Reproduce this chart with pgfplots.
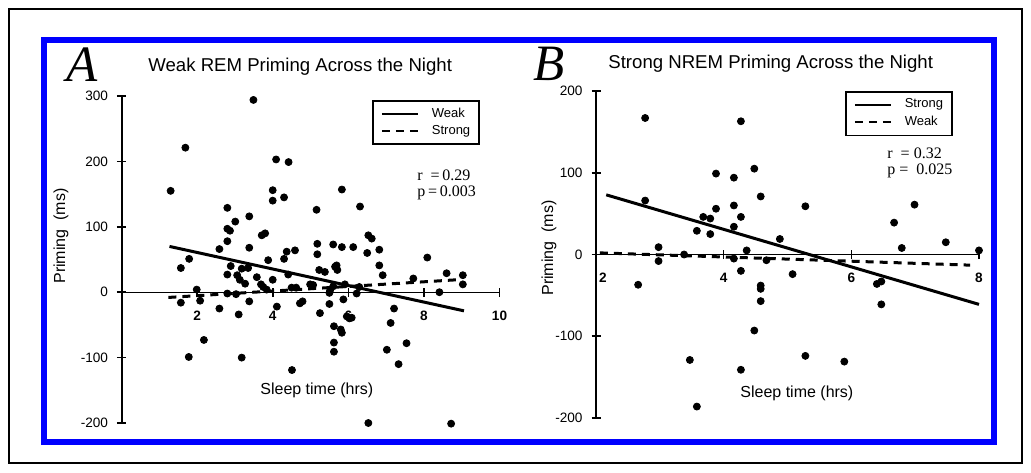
\documentclass[border=0pt]{standalone}
\usepackage{fontspec}
\setmainfont{Liberation Sans}
\newfontfamily\timesf{Liberation Serif}
\usepackage{pgfplots}
\pgfplotsset{compat=1.18}

% panel A: weak REM priming, one point per (sleep hrs, priming ms)
\pgfplotstableread{
x y
1.69 221
1.30 155
3.49 294
4.09 203
4.42 199
4.00 156
4.30 145
4.00 140
5.16 126
2.80 129
3.01 108
3.38 116
2.80 97
2.87 94
3.71 87
3.80 90
2.80 78
2.59 66
3.38 68
5.18 74
5.18 58
4.37 62
4.59 64
4.30 51
3.88 49
1.79 51
1.57 37
2.89 40
3.18 36
3.35 37
2.80 27
3.06 26
3.13 19
3.27 13
3.58 23
4.00 19
4.41 27
3.69 12
3.75 8
3.84 4
4.62 7
4.50 7
4.99 12
5.23 34
1.99 4
2.80 -2
3.03 -3
1.57 -16
2.08 -13
3.38 -14
2.59 -25
3.10 -34
4.11 -22
4.72 -17
4.79 -14
5.25 -32
2.18 -73
1.78 -99
3.18 -100
4.51 -119
5.50 -1
5.52 3
5.50 -18
5.62 -52
5.62 -77
5.62 -91
5.07 11
5.65 39
5.71 34
5.60 73
5.83 157
6.31 131
6.53 87
6.62 82
5.83 69
6.13 69
6.50 60
6.82 65
6.82 41
6.91 26
8.09 53
8.60 29
9.03 26
9.03 12
7.72 21
8.41 0
5.38 31
5.69 41
5.60 9
5.91 12
6.29 8
6.22 -2
5.87 -11
5.96 -37
6.03 -40
6.09 -39
7.21 -25
7.12 -47
5.80 -57
5.83 -62
7.02 -88
7.54 -78
7.33 -110
6.53 -200
8.72 -201
}\weakrem

% panel B: strong NREM priming
\pgfplotstableread{
x y
2.77 167
4.27 163
3.88 99
4.16 94
4.48 105
4.58 71
2.77 66
3.88 56
4.16 60
4.27 46
3.68 46
3.79 44
3.58 29
3.79 25
4.16 34
4.88 19
2.98 9
2.98 -8
3.38 0
4.16 -5
4.36 5
4.67 -7
4.27 -20
5.08 -24
2.66 -37
4.58 -38
4.58 -42
4.58 -57
4.48 -93
3.47 -129
3.58 -186
4.27 -141
5.28 59
6.99 61
6.67 39
6.79 8
7.48 15
8.00 5
6.40 -36
6.47 -33
6.47 -61
5.28 -124
5.89 -131
}\strongnrem

\pgfplotsset{
  sleepaxis/.style={
    scale only axis,
    axis x line=middle, axis y line=left,
    axis line style={-},
    x axis line style={line width=0.7pt},
    y axis line style={line width=1pt},
    tick align=center,
    major tick length=4.5pt,
    tick style={black, line width=0.8pt},
    hide obscured x ticks=false, hide obscured y ticks=false,
    clip=false,
    yticklabel style={font=\fontsize{6.8}{8}\selectfont, inner sep=0.5pt, xshift=-3.8pt},
    xticklabel style={font=\fontsize{6.8}{8}\selectfont\bfseries, yshift=-3.5pt},
    legend style={draw=black, line width=0.8pt, anchor=north west,
      font=\fontsize{6.5}{7.5}\selectfont, legend cell align=left,
      inner xsep=4pt, inner ysep=3pt, row sep=1.5pt, column sep=6pt,
      nodes={inner sep=0.5pt}},
    legend image code/.code={\draw[#1, line width=1pt] (0pt,0pt) -- (18pt,0pt);},
  },
  dots/.style={only marks, mark=*, mark size=1.75pt, black, forget plot},
  fit/.style={black, line width=1.5pt},
  fitdash/.style={black, line width=1.5pt, dash pattern=on 4pt off 3pt},
}

\begin{document}
\begin{tikzpicture}[x=0.5pt,y=-0.5pt]
\path[use as bounding box] (0,0) rectangle (1031,472);
\draw[line width=0.6pt] (9,9) rectangle (1022,463);
\draw[blue, line width=3pt] (44,40) rectangle (994,442);

\begin{axis}[sleepaxis, at={(60.75pt,-211.5pt)}, anchor=south west,
  width=189pt, height=163.5pt,
  xmin=0, xmax=10, ymin=-200, ymax=300,
  xtick={2,4,6,8,10}, xticklabels={2,4,6,8,10},
  ytick={-200,-100,0,100,200,300}, yticklabels={-200,-100,0,100,200,300},
  legend style={at={(0.663,0.988)}}]
\addplot[dots] table {\weakrem};
\addplot[fit] coordinates {(1.27,70) (9.06,-28.5)};
\addlegendentry{Weak}
\addplot[fitdash] coordinates {(1.24,-8) (8.87,19)};
\addlegendentry{Strong}
\end{axis}

\begin{axis}[sleepaxis, at={(298pt,-209pt)}, anchor=south west,
  width=191.5pt, height=163.5pt,
  xmin=2, xmax=8, ymin=-200, ymax=200,
  xtick={2,4,6,8}, xticklabels={\hspace*{7pt}2,4,6,8},
  ytick={-200,-100,0,100,200}, yticklabels={-200,-100,0,100,200},
  legend style={at={(0.650,1.0)}}]
\addplot[dots] table {\strongnrem};
\addplot[fit] coordinates {(2.16,73) (8.0,-61)};
\addlegendentry{Strong}
\addplot[fitdash] coordinates {(2.06,2) (7.86,-13)};
\addlegendentry{Weak}
\end{axis}

\node[anchor=base, inner sep=0, text depth=0pt, font=\timesf\itshape\fontsize{25.5}{27}\selectfont] at (82,81.5) {A};
\node[anchor=base, inner sep=0, text depth=0pt, font=\timesf\itshape\fontsize{25.5}{27}\selectfont] at (549,80) {B};
\node[anchor=base west, inner sep=0, font=\fontsize{9.3}{11}\selectfont] at (148,71.5) {Weak REM Priming Across the Night};
\node[anchor=base west, inner sep=0, font=\fontsize{9.3}{11}\selectfont] at (608,68) {Strong NREM Priming Across the Night};
\node[rotate=90, inner sep=0, font=\fontsize{8}{9}\selectfont] at (61,236) {Priming\ \ (ms)};
\node[rotate=90, inner sep=0, font=\fontsize{8}{9}\selectfont] at (549,248) {Priming\ \ (ms)};
\node[anchor=base west, inner sep=0, font=\fontsize{8}{9}\selectfont] at (260,394) {Sleep time (hrs)};
\node[anchor=base west, inner sep=0, font=\fontsize{8}{9}\selectfont] at (740,397) {Sleep time (hrs)};
\node[anchor=base west, inner sep=0, font=\timesf\fontsize{8}{9}\selectfont] at (417,180.5) {r\ \ =\,0.29};
\node[anchor=base west, inner sep=0, font=\timesf\fontsize{8}{9}\selectfont] at (417,196.5) {p\,=\,0.003};
\node[anchor=base west, inner sep=0, font=\timesf\fontsize{8}{9}\selectfont] at (887,158) {r\ \ = 0.32};
\node[anchor=base west, inner sep=0, font=\timesf\fontsize{8}{9}\selectfont] at (887,174) {p =\ \ 0.025};
\end{tikzpicture}
\end{document}
